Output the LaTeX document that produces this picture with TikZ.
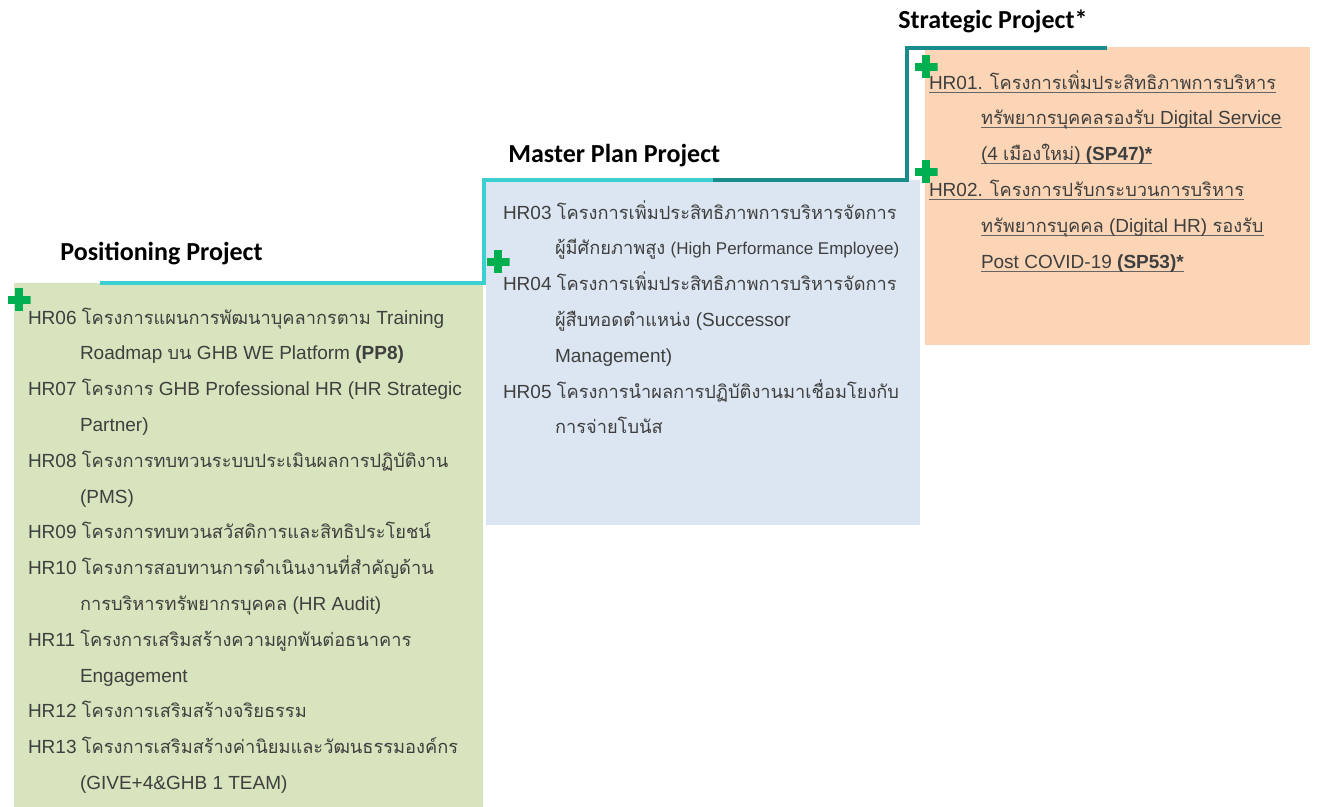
\documentclass[tikz,border=0pt]{standalone}
\usepackage{fontspec}
\setmainfont{Liberation Sans}
\newfontfamily\thaifont[Script=Thai, Scale=0.96]{Loma}
\newfontfamily\headfont{Carlito}
\usetikzlibrary{positioning}

\definecolor{posgreen}{HTML}{D7E4BD}
\definecolor{mpblue}{HTML}{DCE6F2}
\definecolor{sporange}{HTML}{FBD5B5}
\definecolor{stepcyan}{HTML}{3CCFCF}
\definecolor{stepteal}{HTML}{1A8C8C}
\definecolor{plusgreen}{HTML}{00B050}
\definecolor{bodygray}{HTML}{3F3F3F}

\newcommand{\tx}[1]{{\thaifont #1}}
\newcommand{\ind}{\hspace*{26pt}}
\newcommand{\ls}{\rule[-7.85pt]{0pt}{17.9pt}}
\newlength{\ulw}
\newcommand{\ul}[1]{\settowidth{\ulw}{#1}\rlap{\color{bodygray!80}\rule[-1.8pt]{\ulw}{0.55pt}}#1}

\tikzset{
  box/.style={anchor=north west, inner sep=0pt, outer sep=0pt},
  item/.style={inner sep=0pt, outer sep=0pt, align=left, text=bodygray,
    font=\fontsize{9.5}{17.9}\selectfont, execute at end node=\ls},
  head/.style={anchor=base west, inner sep=0pt,
    font=\headfont\bfseries\fontsize{13}{15}\selectfont},
  stepline/.style={line width=1.6pt, line join=miter},
  stepshadow/.style={line width=1.8pt, black!35, opacity=0.5, shift={(1.5,3)}},
  plusmark/.style={minimum size=11.5pt, inner sep=0pt, path picture={
    \fill[plusgreen] ([yshift=-2pt]path picture bounding box.west) rectangle ([yshift=2pt]path picture bounding box.east);
    \fill[plusgreen] ([xshift=-2pt]path picture bounding box.south) rectangle ([xshift=2pt]path picture bounding box.north);}}
}

\begin{document}
\begin{tikzpicture}[x=0.5pt, y=-0.5pt]
\useasboundingbox (0,0) rectangle (1317,807);

% coloured boxes
\node[box, fill=posgreen, minimum width=234.5pt, minimum height=262pt] (posbox) at (14,283) {};
\node[box, fill=mpblue, minimum width=217pt, minimum height=172.5pt] (mpbox) at (486,180) {};
\node[box, fill=sporange, minimum width=192.5pt, minimum height=149pt] (spbox) at (925,47) {};

% headings
\node[head] (poshead) at (60,261) {Positioning Project};
\node[head] (mphead) at (508,163) {Master Plan Project};
\node[head] (sphead) at (898,29) {Strategic Project*};

% step line
\coordinate (posstart) at (100,283);
\coordinate (posstep) at (484,283);
\coordinate (mpstart) at (484,180);
\coordinate (mpmid) at (713,180);
\coordinate (mpstep) at (907,180);
\coordinate (spstart) at (907,48);
\coordinate (spend) at (1107,48);
\draw[stepshadow] (posstart) -- (posstep) -- (mpstart) -- (mpstep) -- (spstart) -- (spend);
\draw[stepline, stepcyan] (posstart) -- (posstep) -- (mpstart) -- (mpmid);
\draw[stepline, stepteal] (mpmid) -- (mpstep) -- (spstart) -- (spend);

% Positioning Project
\node[item, anchor=north west] (hr06) at (28,304) {\ls HR06 \tx{โครงการแผนการพัฒนาบุคลากรตาม}  Training\\ \ind Roadmap \tx{บน} GHB WE Platform \textbf{(PP8)}};
\node[item, below=0pt of hr06.south west, anchor=north west] (hr07) {\ls HR07 \tx{โครงการ} GHB Professional HR (HR Strategic\\ \ind Partner)};
\node[item, below=0pt of hr07.south west, anchor=north west] (hr08) {\ls HR08 \tx{โครงการทบทวนระบบประเมินผลการปฏิบัติงาน}\\ \ind (PMS)};
\node[item, below=0pt of hr08.south west, anchor=north west] (hr09) {\ls HR09 \tx{โครงการทบทวนสวัสดิการและสิทธิประโยชน์}};
\node[item, below=0pt of hr09.south west, anchor=north west] (hr10) {\ls HR10 \tx{โครงการสอบทานการดำเนินงานที่สำคัญด้าน}\\ \ind \tx{การบริหารทรัพยากรบุคคล} (HR Audit)};
\node[item, below=0pt of hr10.south west, anchor=north west] (hr11) {\ls HR11 \tx{โครงการเสริมสร้างความผูกพันต่อธนาคาร}\\ \ind Engagement};
\node[item, below=0pt of hr11.south west, anchor=north west] (hr12) {\ls HR12 \tx{โครงการเสริมสร้างจริยธรรม}};
\node[item, below=0pt of hr12.south west, anchor=north west] (hr13) {\ls HR13 \tx{โครงการเสริมสร้างค่านิยมและวัฒนธรรมองค์กร}\\ \ind (GIVE+4\&GHB 1 TEAM)};

% Master Plan Project
\node[item, anchor=north west] (hr03) at (503,199) {\ls HR03 \tx{โครงการเพิ่มประสิทธิภาพการบริหารจัดการ}\\ \ind \tx{ผู้มีศักยภาพสูง} {\fontsize{8.5}{17.9}\selectfont(High Performance Employee)}};
\node[item, below=0pt of hr03.south west, anchor=north west] (hr04) {\ls HR04 \tx{โครงการเพิ่มประสิทธิภาพการบริหารจัดการ}\\ \ind \tx{ผู้สืบทอดตำแหน่ง} (Successor\\ \ind Management)};
\node[item, below=0pt of hr04.south west, anchor=north west] (hr05) {\ls HR05 \tx{โครงการนำผลการปฏิบัติงานมาเชื่อมโยงกับ}\\ \ind \tx{การจ่ายโบนัส}};

% Strategic Project
\node[item, anchor=north west] (hr01) at (929,69) {\ls\ul{HR01. \tx{โครงการเพิ่มประสิทธิภาพการบริหาร}}\\ \ind \ul{\tx{ทรัพยากรบุคคลรองรับ}  Digital Service}\\ \ind \ul{(4 \tx{เมืองใหม่}) \textbf{(SP47)*}}};
\node[item, below=0pt of hr01.south west, anchor=north west] (hr02) {\ls\ul{HR02. \tx{โครงการปรับกระบวนการบริหาร}}\\ \ind \ul{\tx{ทรัพยากรบุคคล} (Digital HR) \tx{รองรับ}}\\ \ind \ul{Post COVID-19 \textbf{(SP53)*}}};

% plus marks
\node[plusmark] (plus06) at (19,300) {};
\node[plusmark] (plus04) at (498,262) {};
\node[plusmark] (plus01) at (926,67) {};
\node[plusmark] (plus02) at (926,172) {};
\end{tikzpicture}
\end{document}
